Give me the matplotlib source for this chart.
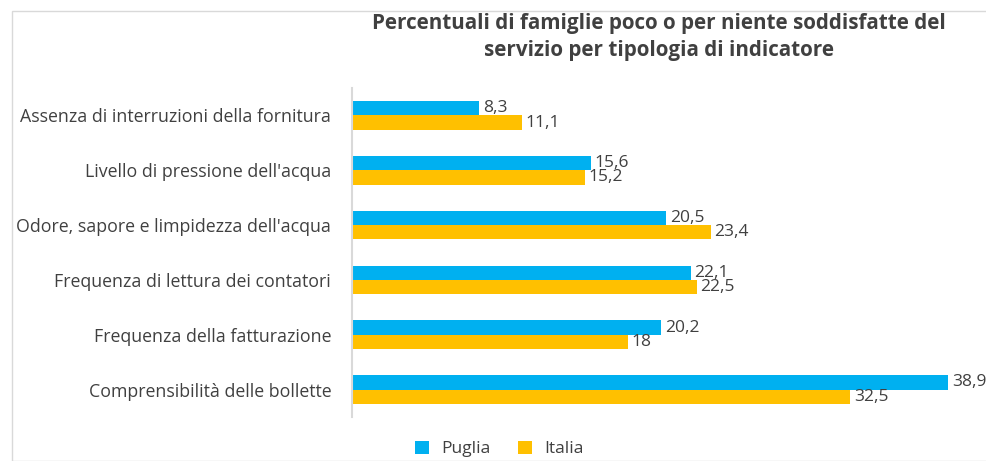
import numpy as np
import matplotlib.pyplot as plt
from matplotlib.patches import Rectangle

categorie = ["Assenza di interruzioni della fornitura",
             "Livello di pressione dell'acqua",
             "Odore, sapore e limpidezza dell'acqua",
             "Frequenza di lettura dei contatori",
             "Frequenza della fatturazione",
             "Comprensibilità delle bollette"]
puglia = [8.3, 15.6, 20.5, 22.1, 20.2, 38.9]
italia = [11.1, 15.2, 23.4, 22.5, 18.0, 32.5]

COL_P = '#00B0F0'
COL_I = '#FFC000'
TXT = '#404040'

plt.rcParams['font.family'] = ['Open Sans', 'DejaVu Sans']

fig = plt.figure(figsize=(9.86, 4.61), dpi=100)
ax = fig.add_axes([0.357, 0.0955, 0.643, 0.7135])

# cornice del grafico
fig.patches.append(Rectangle((12/986, 0), 1, 1 - 11/461, transform=fig.transFigure,
                             fill=False, edgecolor='#D9D9D9', linewidth=1))

y = np.arange(len(categorie))
h = 0.26
ax.barh(y - h/2, puglia, height=h, color=COL_P, label='Puglia')
ax.barh(y + h/2, italia, height=h, color=COL_I, label='Italia')

def fmt(v):
    s = ('%.1f' % v).replace('.', ',')
    return s[:-2] if s.endswith(',0') else s

for i in range(len(categorie)):
    ax.text(puglia[i] + 0.25, y[i] - h/2, fmt(puglia[i]), va='center', ha='left',
            fontsize=12.5, color=TXT)
    ax.text(italia[i] + 0.25, y[i] + h/2, fmt(italia[i]), va='center', ha='left',
            fontsize=12.5, color=TXT)

ax.set_ylim(len(categorie) - 0.5, -0.5)
ax.set_xlim(0, (986 - 352) / (596 / 38.9))
ax.set_yticks(y)
ax.set_yticklabels(categorie, fontsize=12.8, color=TXT)
ax.tick_params(axis='y', length=0, pad=15)
ax.set_xticks([])
for s in ['top', 'right', 'bottom']:
    ax.spines[s].set_visible(False)
ax.spines['left'].set_color('#D9D9D9')
ax.spines['left'].set_linewidth(1.5)

fig.text(659/986, 1 - 37/461,
         "Percentuali di famiglie poco o per niente soddisfatte del\nservizio per tipologia di indicatore",
         ha='center', va='center', fontsize=14.9, fontweight='bold', color=TXT,
         linespacing=1.4)

fig.legend(loc='center', bbox_to_anchor=(499/986, 1 - 449/461), ncol=2, frameon=False,
           fontsize=12.5, handlelength=0.8, handleheight=0.8, columnspacing=1.6,
           handletextpad=0.7, labelcolor=TXT, borderpad=0.2)

fig.savefig('out.png', dpi=100)
